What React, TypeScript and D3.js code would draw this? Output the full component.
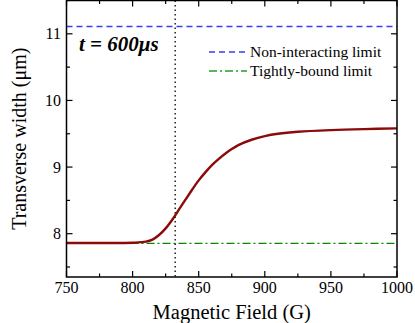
import React, { useEffect, useRef } from 'react';
import * as d3 from 'd3';

const fields = [750, 780, 800, 810, 815, 820, 825, 830, 835, 840, 845, 850, 855, 860, 865, 870, 875, 880, 890, 900, 910, 925, 950, 975, 1000];
const widths = [7.86, 7.86, 7.865, 7.88, 7.91, 7.98, 8.08, 8.21, 8.36, 8.51, 8.66, 8.8, 8.92, 9.03, 9.12, 9.2, 9.27, 9.33, 9.41, 9.465, 9.5, 9.53, 9.555, 9.57, 9.58];
const nonInteracting = 11.11;
const tightlyBound = 7.855;
const resonance = 832.2;
const xTicks = [750, 800, 850, 900, 950, 1000];
const yTicks = [8, 9, 10, 11];
const legendItems = ['Non-interacting limit', 'Tightly-bound limit'];

const W = 415;
const H = 323;

const App = () => {
  const ref = useRef<SVGSVGElement>(null);

  useEffect(() => {
    const svg = d3.select(ref.current);
    svg.selectAll('*').remove();

    const left = 66.5, right = 397, top = 0.5, bottom = 277;
    const x = d3.scaleLinear().domain([750, 1000]).range([left, right]);
    const y = d3.scaleLinear().domain([7.35, 11.5]).range([bottom, top]);
    const font = "'Liberation Serif', 'DejaVu Serif', serif";

    // reference lines
    svg.append('line')
      .attr('x1', left).attr('x2', right)
      .attr('y1', y(nonInteracting)).attr('y2', y(nonInteracting))
      .attr('stroke', '#3a3aff').attr('stroke-width', 1.5)
      .attr('stroke-dasharray', '6,4');

    svg.append('line')
      .attr('x1', left).attr('x2', right)
      .attr('y1', y(tightlyBound)).attr('y2', y(tightlyBound))
      .attr('stroke', '#008a00').attr('stroke-width', 1.3)
      .attr('stroke-dasharray', '8,3,2,3');

    svg.append('line')
      .attr('x1', x(resonance)).attr('x2', x(resonance))
      .attr('y1', top).attr('y2', bottom)
      .attr('stroke', '#000').attr('stroke-width', 1.3)
      .attr('stroke-dasharray', '1.5,3');

    const line = d3.line<number>()
      .x((d, i) => x(fields[i]))
      .y(d => y(d))
      .curve(d3.curveCatmullRom);

    svg.append('path')
      .attr('d', line(widths))
      .attr('fill', 'none')
      .attr('stroke', '#8b0a0a')
      .attr('stroke-width', 2.4);

    // frame
    svg.append('rect')
      .attr('x', left).attr('y', top)
      .attr('width', right - left).attr('height', bottom - top)
      .attr('fill', 'none').attr('stroke', '#000').attr('stroke-width', 1.5);

    const ticks = svg.append('g').attr('stroke', '#000').attr('stroke-width', 1.2);
    d3.range(750, 1001, 25).forEach(v => {
      const len = v % 50 === 0 ? 6 : 3.5;
      ticks.append('line').attr('x1', x(v)).attr('x2', x(v)).attr('y1', bottom).attr('y2', bottom - len);
      ticks.append('line').attr('x1', x(v)).attr('x2', x(v)).attr('y1', top).attr('y2', top + len);
    });
    d3.range(7.5, 11.51, 0.5).forEach(v => {
      const len = Math.abs(v - Math.round(v)) < 1e-6 ? 6 : 3.5;
      ticks.append('line').attr('x1', left).attr('x2', left + len).attr('y1', y(v)).attr('y2', y(v));
      ticks.append('line').attr('x1', right).attr('x2', right - len).attr('y1', y(v)).attr('y2', y(v));
    });

    const txt = (sel: any, size: number) =>
      sel.style('font-family', font).style('font-size', `${size}px`).attr('fill', '#000');

    txt(svg.append('g').selectAll('text').data(xTicks).enter().append('text')
      .attr('x', d => x(d)).attr('y', 293)
      .attr('text-anchor', 'middle')
      .text(d => d), 16);

    txt(svg.append('g').selectAll('text').data(yTicks).enter().append('text')
      .attr('x', 61).attr('y', d => y(d) + 5.5)
      .attr('text-anchor', 'end')
      .text(d => d), 16);

    txt(svg.append('text')
      .attr('x', (left + right) / 2).attr('y', 319)
      .attr('text-anchor', 'middle')
      .text('Magnetic Field (G)'), 20.5);

    txt(svg.append('text')
      .attr('transform', `translate(26,${(top + bottom) / 2}) rotate(-90)`)
      .attr('text-anchor', 'middle')
      .text('Transverse width (μm)'), 20);

    txt(svg.append('text')
      .attr('x', 79).attr('y', 51)
      .style('font-weight', 'bold').style('font-style', 'italic')
      .text('t = 600μs'), 21);

    // legend
    const legend = svg.append('g');
    const colors = ['#3a3aff', '#2a9a2a'];
    const dashes = ['6,4', '8,3,2,3'];
    legendItems.forEach((label, i) => {
      const ly = 52 + i * 19;
      legend.append('line')
        .attr('x1', 209).attr('x2', 247)
        .attr('y1', ly).attr('y2', ly)
        .attr('stroke', colors[i]).attr('stroke-width', 1.4)
        .attr('stroke-dasharray', dashes[i]);
      txt(legend.append('text')
        .attr('x', 250).attr('y', ly + 5)
        .text(label), 15.5);
    });
  }, []);

  return (
    <svg ref={ref} width={W} height={H} style={{ position: 'absolute', left: 0, top: 0, background: '#fff' }} />
  );
};

export default App;
